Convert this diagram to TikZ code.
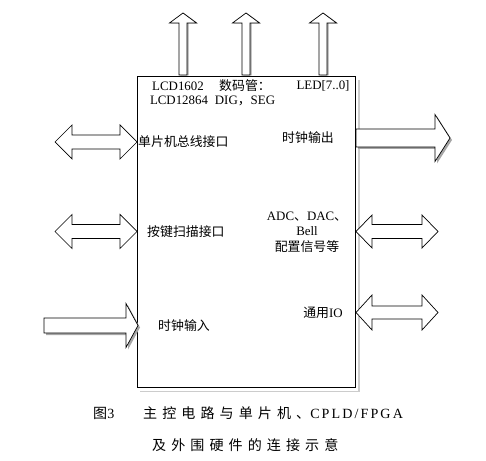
\documentclass[tikz,border=0pt]{standalone}
\usepackage{fontspec}
\setmainfont{Liberation Serif}
\newfontfamily\cjk{Noto Sans CJK SC}
\newfontfamily\capcjk[LetterSpace=36]{Noto Sans CJK SC}
\newfontfamily\caplat[LetterSpace=15]{Liberation Serif}

\tikzset{
  % #1 length, #2 half shaft, #3 half head, #4 head length
  pics/onearrow/.style n args={4}{code={
    \path[pic actions] (0,-#2) -- ({#1-#4},-#2) -- ({#1-#4},-#3) -- (#1,0)
      -- ({#1-#4},#3) -- ({#1-#4},#2) -- (0,#2) -- cycle;
  }},
  pics/twoarrow/.style n args={4}{code={
    \path[pic actions] (0,0) -- (#4,-#3) -- (#4,-#2) -- ({#1-#4},-#2) -- ({#1-#4},-#3)
      -- (#1,0) -- ({#1-#4},#3) -- ({#1-#4},#2) -- (#4,#2) -- (#4,#3) -- cycle;
  }},
  lbl/.style={inner sep=0pt, font=\fontsize{11}{13}\selectfont},
  captext/.style={inner sep=0pt, anchor=west, font=\fontsize{12}{14}\selectfont},
  arr/.style={draw, fill=white, line width=0.6pt, line join=miter},
  shade/.style={fill=gray!70},
}

\begin{document}
\begin{tikzpicture}[x=0.03cm,y=-0.03cm]
  \useasboundingbox (0,0) rectangle (486,461);

  \node[draw, line width=0.7pt, fill=white, minimum width=6.54cm, minimum height=9.33cm] (mcu) at (246,231.5) {};
  \draw[gray!40, line width=1.3pt] ([shift={(3.5,4)}]mcu.north east) |- ([shift={(3.5,4)}]mcu.south west);

  % outputs on top
  \coordinate (lcd) at (183,75);
  \coordinate (seg) at (246,75);
  \coordinate (led) at (323,75);
  \pic[shade, rotate=90] at ([shift={(1.5,0.5)}]lcd) {onearrow={62}{4}{13.5}{10}};
  \pic[shade, rotate=90] at ([shift={(1.5,0.5)}]seg) {onearrow={62}{4}{13.5}{10}};
  \pic[shade, rotate=90] at ([shift={(1.5,0.5)}]led) {onearrow={62}{4}{13.5}{10}};
  \pic[arr, rotate=90] at (lcd) {onearrow={62}{4}{13.5}{10}};
  \pic[arr, rotate=90] at (seg) {onearrow={62}{4}{13.5}{10}};
  \pic[arr, rotate=90] at (led) {onearrow={62}{4}{13.5}{10}};

  \node[lbl] (lcda) at (178,86) {LCD1602};
  \node[lbl] (lcdb) at (179,100) {LCD12864};
  \node[lbl] (sega) at (245,86) {\cjk 数码管：};
  \node[lbl] (segb) at (245,101) {DIG{\cjk ，}SEG};
  \node[lbl] (leda) at (323,86) {LED[7..0]};

  % left side
  \coordinate (bus) at (55,142);
  \coordinate (key) at (55,231.5);
  \coordinate (clkin) at (44,325.5);
  \pic[arr] at (bus) {twoarrow={82}{7}{17}{17}};
  \pic[arr] at (key) {twoarrow={82}{7}{17}{17}};
  \pic[shade] at ([shift={(2,2)}]clkin) {onearrow={94}{7.5}{22}{12}};
  \pic[arr] at (clkin) {onearrow={94}{7.5}{22}{12}};

  \node[lbl, anchor=west] (busl) at (138,142) {\cjk 单片机总线接口};
  \node[lbl, anchor=west] (keyl) at (147,231.5) {\cjk 按键扫描接口};
  \node[lbl, anchor=west] (clkinl) at (158,325.5) {\cjk 时钟输入};

  % right side
  \coordinate (clkout) at (356,138);
  \coordinate (adc) at (356,231.5);
  \coordinate (io) at (356,312.5);
  \pic[shade] at ([shift={(2,2)}]clkout) {onearrow={94}{9}{23.5}{15}};
  \pic[arr] at (clkout) {onearrow={94}{9}{23.5}{15}};
  \pic[arr] at (adc) {twoarrow={82}{7}{16.5}{16}};
  \pic[arr] at (io) {twoarrow={82}{6.5}{17.5}{16}};

  \node[lbl] (clkoutl) at (308,138) {\cjk 时钟输出};
  \node[lbl] (adca) at (307,217) {ADC{\cjk 、}DAC{\cjk 、}};
  \node[lbl] (adcb) at (307,231.5) {Bell};
  \node[lbl] (adcc) at (307,247) {\cjk 配置信号等};
  \node[lbl] (iol) at (323,312.5) {{\cjk 通用}IO};

  % caption
  \node[captext] (figno) at (93,413) {{\capcjk 图}3};
  \node[captext] (cap1) at (143,413) {{\capcjk 主控电路与单片机、}{\caplat CPLD/FPGA}};
  \node[captext] (cap2) at (152,445) {\capcjk 及外围硬件的连接示意};
\end{tikzpicture}
\end{document}
